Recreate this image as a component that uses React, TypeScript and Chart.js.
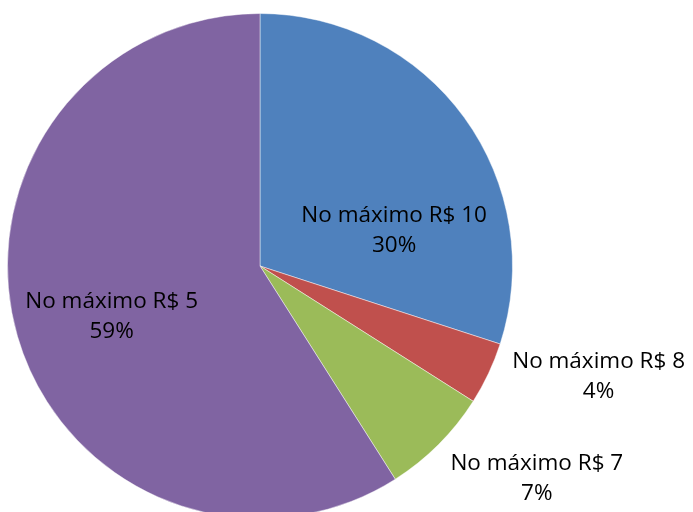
import React, { useEffect, useRef } from "react";
import { Chart, registerables } from "chart.js";

Chart.register(...registerables);

const categories = ["No máximo R$ 10", "No máximo R$ 8", "No máximo R$ 7", "No máximo R$ 5"];
const values = [30, 4, 7, 59];
const percentLabels = ["30%", "4%", "7%", "59%"];
const colors = ["#4F81BD", "#C0504D", "#9BBB59", "#8064A2"];

// label placement: [angle from top in degrees, distance as fraction of radius]
const labelPlacement: [number, number][] = [
  [75, 0.55],
  [108, 1.41],
  [127.4, 1.38],
  [251.4, 0.62],
];

const labelPlugin = {
  id: "excelLabels",
  afterDatasetsDraw(chart: any) {
    const meta = chart.getDatasetMeta(0);
    const arc = meta.data[0];
    if (!arc) return;
    const { x, y, outerRadius } = arc.getProps(["x", "y", "outerRadius"], true);
    const ctx = chart.ctx;
    ctx.save();
    ctx.font = "22.5px 'Open Sans'";
    ctx.fillStyle = "#000";
    ctx.textAlign = "center";
    ctx.textBaseline = "middle";
    categories.forEach((c, i) => {
      const [deg, f] = labelPlacement[i];
      const a = (deg * Math.PI) / 180;
      const lx = x + Math.sin(a) * outerRadius * f;
      const ly = y - Math.cos(a) * outerRadius * f;
      ctx.fillText(c, lx, ly - 14);
      ctx.fillText(percentLabels[i], lx, ly + 16);
    });
    ctx.restore();
  },
};

export default function App() {
  const ref = useRef<HTMLCanvasElement>(null);
  useEffect(() => {
    if (!ref.current) return;
    const chart = new Chart(ref.current, {
      type: "pie",
      data: {
        labels: categories,
        datasets: [
          {
            data: values,
            backgroundColor: colors,
            borderColor: "rgba(255,255,255,0.45)",
            borderWidth: 1,
          },
        ],
      },
      options: {
        responsive: false,
        animation: false,
        layout: { padding: { left: 7, right: 180, top: 13, bottom: 11 } },
        plugins: { legend: { display: false }, tooltip: { enabled: false } },
      },
      plugins: [labelPlugin],
    });
    return () => chart.destroy();
  }, []);
  return (
    <div
      style={{
        position: "absolute",
        left: 0,
        top: 0,
        width: 693,
        height: 512,
        overflow: "hidden",
        background: "#fff",
      }}
    >
      <canvas ref={ref} width={693} height={530} style={{ display: "block" }} />
    </div>
  );
}
